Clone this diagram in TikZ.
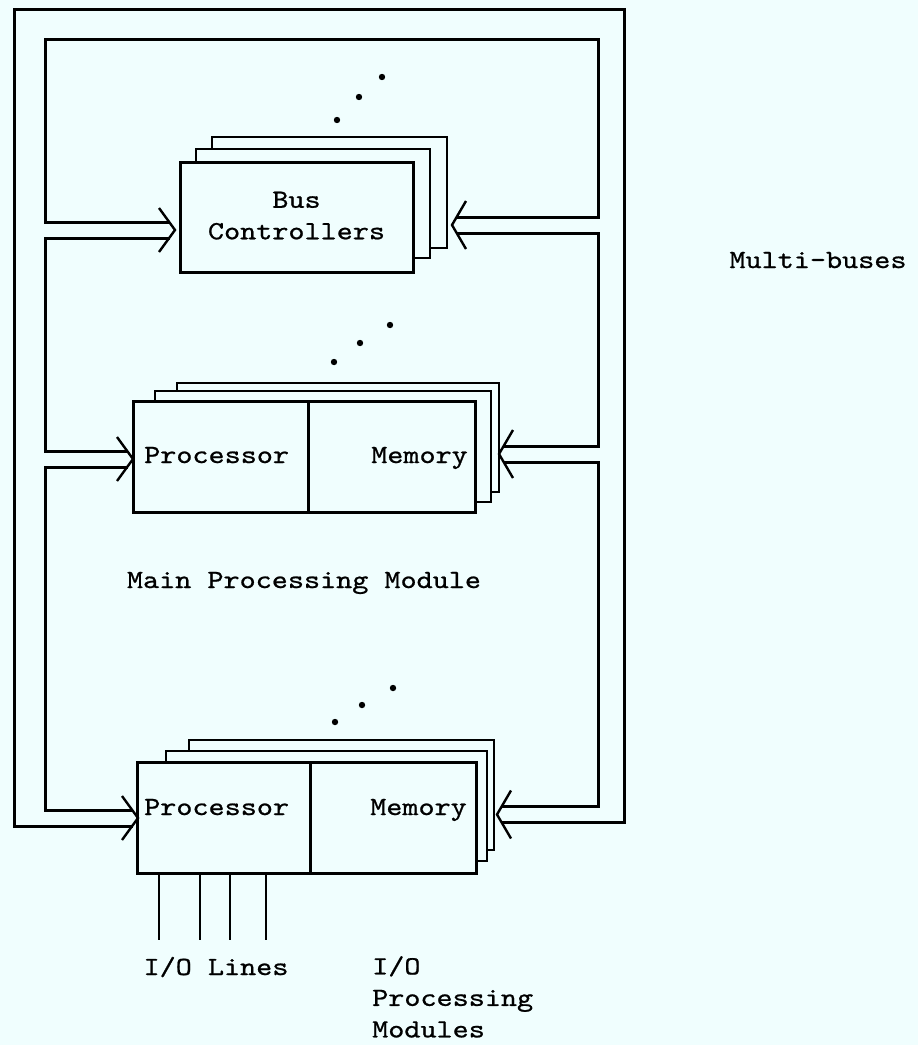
\documentclass[tikz,border=0pt]{standalone}
\usepackage{fontspec}
\usepackage{tikz}
\usetikzlibrary{calc}
\newfontfamily\typewriter[FakeStretch=1.17, FakeBold=0.8]{lmmono10-regular.otf}
\definecolor{paper}{HTML}{F0FEFE}
\pgfdeclarelayer{bg}
\pgfsetlayers{bg,main}

\begin{document}
\begin{tikzpicture}[x=1pt, y=1pt,
  box/.style={draw, line width=3pt, fill=paper, inner sep=0pt, outer sep=0pt, align=center, font=\typewriter\fontsize{26.2}{31.5}\selectfont},
  layer/.style={draw, line width=2.8pt, fill=paper},
  lbl/.style={inner sep=0pt, text height=16pt, text depth=0pt, font=\typewriter\fontsize{26.2}{31.5}\selectfont},
  bus/.style={line width=3pt},
  chev/.style={line width=2.4pt},
  ioline/.style={line width=2.6pt}
]
\begin{pgfonlayer}{bg}
\fill[paper] (0,0) rectangle (918,-1045);
\end{pgfonlayer}
\useasboundingbox (0,0) rectangle (918,-1045);

\node[box, minimum width=233pt, minimum height=110pt] (bc) at (296.5,-217) {\raisebox{3pt}{Bus}\\\raisebox{3pt}{Controllers}};
\node[box, minimum width=342pt, minimum height=111pt] (mpm) at (304,-456.5) {};
\node[box, minimum width=339pt, minimum height=111pt] (iop) at (306.5,-817.5) {};

\begin{pgfonlayer}{bg}
\foreach \n/\a/\b/\c/\d in {bc/32/25/34/24, bc/16/13/17/14, mpm/44/18/24/20, mpm/22/10/16/10, iop/52/22/18/23, iop/29/11/11/12}
  \draw[layer] ($(\n.north west)+(\a,\b)$) rectangle ($(\n.south east)+(\c,\d)$);
\end{pgfonlayer}

\draw[box] ($(mpm.north west)+(175,0)$) -- ($(mpm.south west)+(175,0)$);
\draw[box] ($(iop.north west)+(173,0)$) -- ($(iop.south west)+(173,0)$);

\node[lbl, anchor=west] (mproc) at ($(mpm.west)+(11,1.5)$) {Processor};
\node[lbl, anchor=east] (mmem) at ($(mpm.east)+(-7,1.5)$) {Memory};
\node[lbl, anchor=west] (iproc) at ($(iop.west)+(7,10.5)$) {Processor};
\node[lbl, anchor=east] (imem) at ($(iop.east)+(-9,10.5)$) {Memory};

\coordinate (bcL) at (175,-230);
\coordinate (bcR) at (452,-225);
\coordinate (mpL) at (133,-459);
\coordinate (mpR) at (499,-454);
\coordinate (ioL) at (138,-818);
\coordinate (ioR) at (497,-814.5);
\coordinate (lbus) at (45,0);
\coordinate (rbus) at (598,0);
\coordinate (outerNW) at (14,-9);
\coordinate (outerNE) at (624,-9);
\coordinate (innerNW) at (45,-39);

\draw[bus] ($(ioL)+(-5,-8)$) -| (outerNW) -| ($(outerNE |- ioR)+(0,-8)$) -- ($(ioR)+(5,-8)$);
\draw[bus] ($(bcL)+(-5,8)$) -| (innerNW) -| ($(rbus |- bcR)+(0,8)$) -- ($(bcR)+(5,8)$);
\draw[bus] ($(bcL)+(-5,-8)$) -| ($(lbus |- mpL)+(0,8)$) -- ($(mpL)+(-5,8)$);
\draw[bus] ($(mpL)+(-5,-8)$) -| ($(lbus |- ioL)+(0,8)$) -- ($(ioL)+(-5,8)$);
\draw[bus] ($(bcR)+(5,-8)$) -| ($(rbus |- mpR)+(0,8)$) -- ($(mpR)+(5,8)$);
\draw[bus] ($(mpR)+(5,-8)$) -| ($(rbus |- ioR)+(0,8)$) -- ($(ioR)+(5,8)$);

\foreach \t in {bcL,mpL,ioL}
  \draw[chev] ($(\t)+(-16,22)$) -- (\t) -- ($(\t)+(-16,-22)$);
\foreach \t in {bcR,mpR,ioR}
  \draw[chev] ($(\t)+(14,24)$) -- (\t) -- ($(\t)+(14,-24)$);

\foreach \x in {22,63,93,129}
  \draw[ioline] ($(iop.south west)+(\x,0)$) -- ++(0,-67);

\foreach \p in {(337,-120),(359,-97),(382,-77),(334,-362),(360,-343),(390,-325),(335,-722),(362,-705),(393,-688)}
  \fill \p circle (3.2);

\node[lbl] (multi) at (818,-260) {Multi-buses};
\node[lbl] (mpmlbl) at (304,-580) {Main Processing Module};
\node[lbl] (iolines) at (216,-967) {I/O Lines};
\node[lbl, align=left, anchor=north west, text height=] (ioplbl) at (372,-956) {I/O\\Processing\\Modules};
\end{tikzpicture}
\end{document}
